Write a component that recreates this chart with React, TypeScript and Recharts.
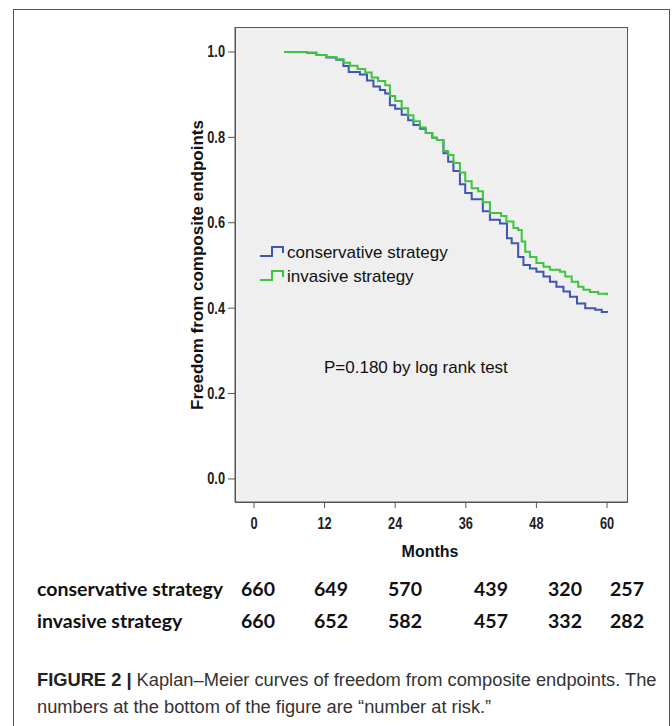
import React from "react";
import { LineChart, Line, XAxis, YAxis } from "recharts";

// ---- data ----
const conservativeTime = [5.1, 9.0, 10.6, 12.3, 14.0, 15.2, 16.1, 18.0, 19.2, 20.3, 21.4, 22.3, 23.1, 24.0, 25.1, 26.2, 27.1, 28.2, 29.2, 30.3, 31.1, 32.2, 33.0, 33.9, 35.0, 35.9, 37.0, 38.9, 40.1, 41.8, 43.0, 43.8, 44.9, 45.8, 46.9, 48.0, 49.2, 50.3, 51.4, 52.6, 53.7, 54.9, 56.3, 58.0, 59.1, 60.0];
const conservativeSurv = [1.0, 0.998, 0.993, 0.987, 0.982, 0.967, 0.953, 0.947, 0.933, 0.919, 0.911, 0.903, 0.875, 0.867, 0.853, 0.84, 0.829, 0.82, 0.81, 0.799, 0.794, 0.763, 0.743, 0.721, 0.69, 0.67, 0.655, 0.627, 0.607, 0.598, 0.564, 0.552, 0.52, 0.501, 0.493, 0.485, 0.474, 0.462, 0.45, 0.439, 0.427, 0.411, 0.4, 0.396, 0.391, 0.389];
const invasiveTime = [5.1, 9.0, 10.6, 12.3, 14.0, 15.2, 16.3, 17.6, 18.9, 20.0, 21.1, 22.3, 23.1, 24.0, 25.1, 26.2, 27.1, 28.2, 29.2, 30.3, 31.1, 32.2, 33.0, 33.9, 35.0, 35.9, 37.0, 38.1, 38.9, 40.1, 42.0, 42.9, 44.1, 44.9, 45.5, 46.1, 46.9, 48.0, 49.2, 50.3, 52.0, 52.9, 54.0, 55.1, 56.0, 57.1, 58.5, 60.0];
const invasiveSurv = [1.0, 0.998, 0.993, 0.988, 0.983, 0.975, 0.968, 0.96, 0.952, 0.94, 0.932, 0.922, 0.897, 0.885, 0.868, 0.852, 0.838, 0.823, 0.81, 0.799, 0.794, 0.768, 0.759, 0.74, 0.718, 0.697, 0.681, 0.674, 0.648, 0.623, 0.616, 0.603, 0.588, 0.583, 0.556, 0.532, 0.52, 0.506, 0.497, 0.49, 0.485, 0.474, 0.462, 0.45, 0.443, 0.438, 0.434, 0.43];

const xTicks = [0, 12, 24, 36, 48, 60];
const yTicks = [0, 0.2, 0.4, 0.6, 0.8, 1.0];

const seriesNames = ["conservative strategy", "invasive strategy"];
const seriesColors = ["#3d55b3", "#3ec43e"];

const riskConservative = [660, 649, 570, 439, 320, 257];
const riskInvasive = [660, 652, 582, 457, 332, 282];

const pText = "P=0.180 by log rank test";
const yTitle = "Freedom from composite endpoints";
const xTitle = "Months";

// ---- layout ----
const riskColX = [258, 331, 405, 491, 565, 627];

const conservativeData = conservativeTime.map((t, i) => ({ t, s: conservativeSurv[i] }));
const invasiveData = invasiveTime.map((t, i) => ({ t, s: invasiveSurv[i] }));

const sans = "'Liberation Sans', Arial, sans-serif";

const XTick = (props: any) => {
  const { x, y, payload } = props;
  return (
    <g transform={`translate(${x},${y + 8}) scale(0.8,1)`}>
      <text x={0} y={0} textAnchor="middle" dominantBaseline="hanging" fontFamily={sans} fontWeight={700} fontSize={16} fill="#222">{payload.value}</text>
    </g>
  );
};

const YTick = (props: any) => {
  const { x, y, payload } = props;
  return (
    <g transform={`translate(${x - 1},${y}) scale(0.8,1)`}>
      <text x={0} y={0} textAnchor="end" dominantBaseline="central" fontFamily={sans} fontWeight={700} fontSize={16} fill="#222">{Number(payload.value).toFixed(1)}</text>
    </g>
  );
};

export default function App() {
  return (
    <div style={{ position: "absolute", left: 0, top: 0, width: 672, height: 726, background: "#fff", overflow: "hidden" }}>
      <div style={{ position: "absolute", left: 13, top: 9, width: 657, height: 760, border: "1px solid #555", boxSizing: "border-box" }} />
      <div style={{ position: "absolute", left: 235, top: 27, width: 393, height: 476, background: "#efefef", border: "1px solid #555", boxSizing: "border-box" }} />
      <div style={{ position: "absolute", left: 0, top: 0 }}>
        <LineChart width={672} height={580} margin={{ top: 27, right: 45, left: 0, bottom: 0 }}>
          <XAxis
            type="number"
            dataKey="t"
            domain={[-3.23, 63.4]}
            ticks={xTicks}
            allowDataOverflow
            height={78}
            stroke="#555"
            tickSize={6}
            tick={<XTick />}
          />
          <YAxis
            type="number"
            dataKey="s"
            domain={[-0.054, 1.0585]}
            ticks={yTicks}
            allowDataOverflow
            width={235}
            stroke="#555"
            tickSize={7}
            tick={<YTick />}
          />
          <Line data={conservativeData} dataKey="s" name={seriesNames[0]} type="stepAfter" stroke={seriesColors[0]} strokeWidth={2} dot={false} isAnimationActive={false} />
          <Line data={invasiveData} dataKey="s" name={seriesNames[1]} type="stepAfter" stroke={seriesColors[1]} strokeWidth={2} dot={false} isAnimationActive={false} />
        </LineChart>
      </div>
      <svg width={672} height={726} style={{ position: "absolute", left: 0, top: 0, pointerEvents: "none" }}>
        <text x={197} y={265} transform="rotate(-90 197 265)" textAnchor="middle" dominantBaseline="central" fontFamily={sans} fontWeight={700} fontSize={17} fill="#111">{yTitle}</text>
        <text x={430} y={551} textAnchor="middle" dominantBaseline="central" fontFamily={sans} fontWeight={700} fontSize={16} fill="#111">{xTitle}</text>
        <text x={324} y={367} dominantBaseline="central" fontFamily={sans} fontSize={17} fill="#111">{pText}</text>
        {seriesNames.map((n, i) => {
          const cy = 252 + i * 24;
          return (
            <g key={n}>
              <path d={`M260 ${cy + 4} H272 V${cy - 5} H283 V${cy + 1}`} fill="none" stroke={seriesColors[i]} strokeWidth={2} />
              <text x={287} y={cy} dominantBaseline="central" fontFamily={sans} fontSize={17} fill="#111">{n}</text>
            </g>
          );
        })}
        {[riskConservative, riskInvasive].map((row, r) => {
          const cy = 588 + r * 32;
          return (
            <g key={r}>
              <text x={37} y={cy} dominantBaseline="central" fontFamily="Lato, sans-serif" fontWeight={700} fontSize={19.5} fill="#111">{seriesNames[r]}</text>
              {row.map((v, j) => (
                <text key={j} x={riskColX[j]} y={cy} textAnchor="middle" dominantBaseline="central" fontFamily="Lato, sans-serif" fontWeight={700} fontSize={19.5} fill="#111">{v}</text>
              ))}
            </g>
          );
        })}
        <text x={37} y={679} dominantBaseline="central" fontFamily={sans} fontSize={18.3} fill="#333">
          <tspan fontWeight={700} fill="#222">FIGURE 2 | </tspan>
          <tspan>Kaplan–Meier curves of freedom from composite endpoints. The</tspan>
        </text>
        <text x={37} y={706} dominantBaseline="central" fontFamily={sans} fontSize={18.3} fill="#333">numbers at the bottom of the figure are “number at risk.”</text>
      </svg>
    </div>
  );
}
